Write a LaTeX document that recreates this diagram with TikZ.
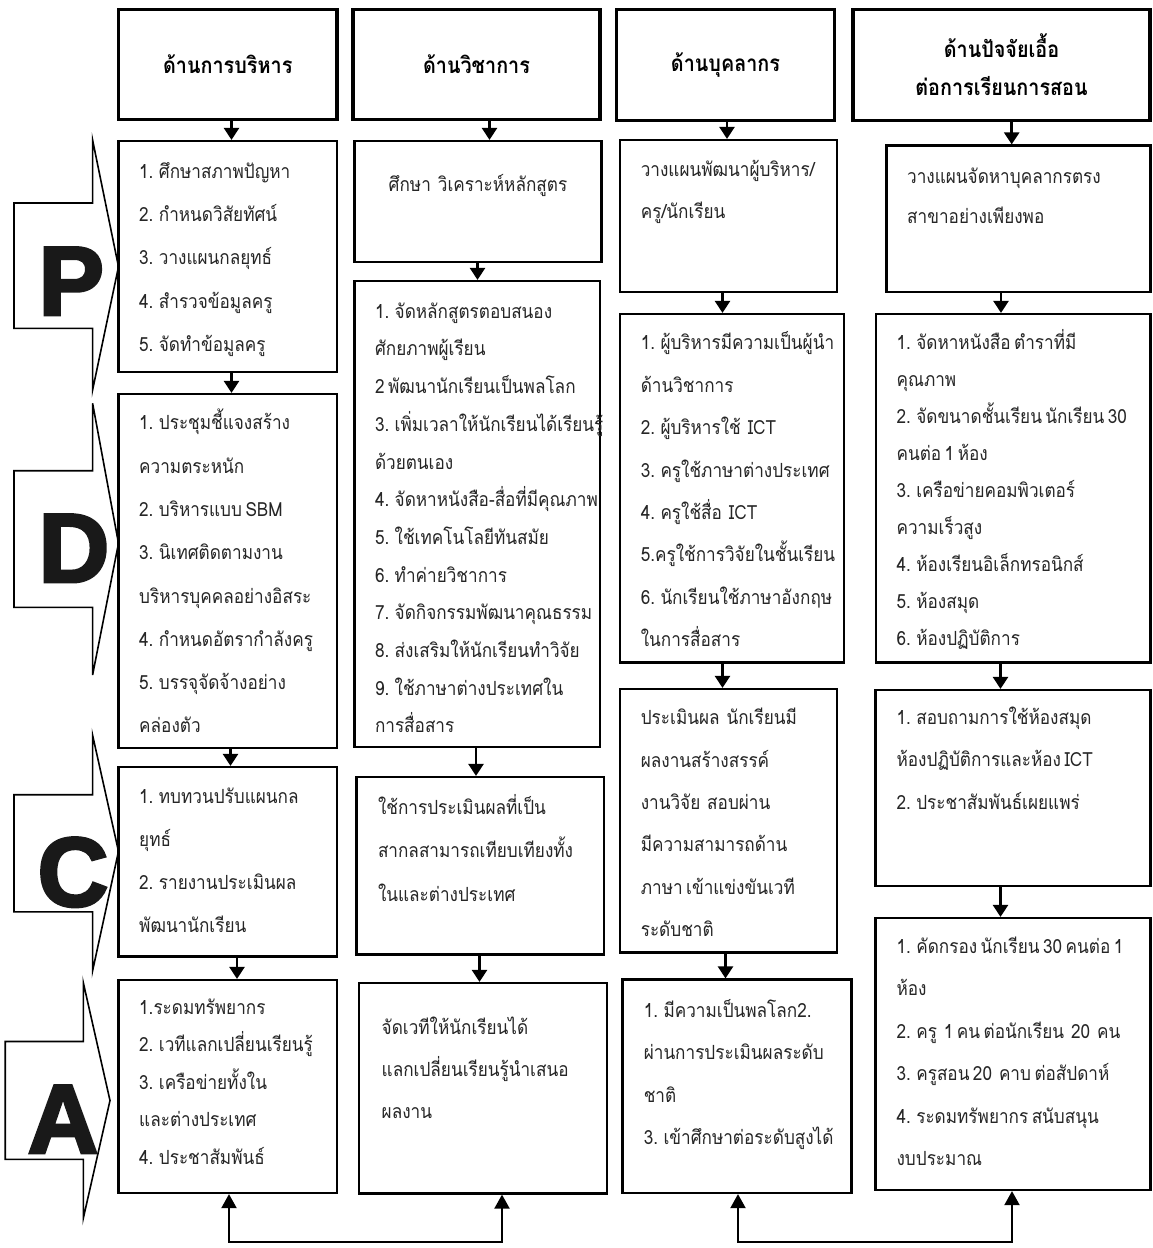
\documentclass[tikz,border=0pt]{standalone}
\usepackage{fontspec}
\usetikzlibrary{arrows.meta}
\newfontfamily\thai[Script=Thai, FakeStretch=0.88, WordSpace=0.6]{Loma}
\newfontfamily\heavy{Liberation Sans}[BoldFeatures={FakeBold=3}]
\newcommand\tl[2]{\vtop{\baselineskip=#1pt\lineskiplimit=-100pt\lineskip=0pt #2}}
\newcommand\li[1]{\hbox{#1}}
\newcommand\mkbox[5]{\node[box, minimum width={#4-#2}, minimum height={#5-#3}] (#1) at ({(#2+#4)/2},{(#3+#5)/2}) {};}
\newcommand\dn[3]{\draw[arr] (#1.south -| #3,0) -- (#2.north -| #3,0);}
\begin{document}
\begin{tikzpicture}[x=1pt,y=-1pt,
  hdr/.style={draw, line width=3.5pt, inner sep=0, align=center, font=\thai\bfseries\fontsize{22.5}{38}\selectfont},
  box/.style={draw, line width=2.2pt, inner sep=0},
  txt/.style={anchor=base west, inner sep=0, font=\thai\fontsize{19.5}{19.5}\selectfont, text=black!85},
  arr/.style={line width=2.5pt, -{Triangle[width=15pt,length=12pt]}},
  link/.style={line width=2pt, {Triangle[width=15pt,length=14pt]}-{Triangle[width=15pt,length=14pt]}},
  pdca/.style={draw, line width=1.6pt, line join=miter, fill=white},
  big/.style={inner sep=0, anchor=base, font=\heavy\bfseries\fontsize{98}{98}\selectfont, text=black!90}
]
\useasboundingbox[fill=white] (0,0) rectangle (1153,1248);

% PDCA block arrows
\draw[pdca] (14,203) -- (92.6,203) -- (92.6,140) -- (118.5,266.7) -- (92.6,390) -- (92.6,328.3) -- (14,328.3) -- cycle;
\draw[pdca] (14,470.7) -- (92.6,470.7) -- (92.6,403.3) -- (118.5,543.3) -- (92.6,675) -- (92.6,607.3) -- (14,607.3) -- cycle;
\draw[pdca] (14,794.7) -- (92.6,794.7) -- (92.6,735.2) -- (118.5,851.3) -- (92.6,970.8) -- (92.6,911.9) -- (14,911.9) -- cycle;
\draw[pdca] (5.2,1041.5) -- (83.3,1041.5) -- (83.3,982.6) -- (110,1100.5) -- (83.3,1218.3) -- (83.3,1159.4) -- (5.2,1159.4) -- cycle;
\node[big] (LP) at (71.3,315) {P};
\node[big] (LD) at (74,582) {D};
\node[big] (LC) at (73,906) {C};
\node[big] (LA) at (63,1153) {A};

% headers
\node[hdr, minimum width=218.5, minimum height=110] (H1) at (227.75,64.5) {ด้านการบริหาร};
\node[hdr, minimum width=247, minimum height=110] (H2) at (476.5,64.5) {ด้านวิชาการ};
\node[hdr, minimum width=218, minimum height=111] (H3) at (725.5,65) {ด้านบุคลากร};
\node[hdr, minimum width=297, minimum height=111] (H4) at (1001.5,65) {ด้านปัจจัยเอื้อ\\ต่อการเรียนการสอน};

% boxes
\mkbox{P1}{118.5}{141}{337}{372}
\mkbox{D1}{118.5}{394}{337}{748}
\mkbox{C1}{118.5}{767}{337}{956.5}
\mkbox{A1}{118.5}{980}{337}{1193}
\mkbox{B1}{354.5}{141}{601.5}{262}
\mkbox{B2}{354.5}{281}{600}{747}
\mkbox{B3}{356.5}{777}{604}{954.5}
\mkbox{B4}{359}{983}{607}{1193.5}
\mkbox{K1}{620}{140}{837}{292}
\mkbox{K2}{620}{314}{844}{662.5}
\mkbox{K3}{620}{689}{837}{952.5}
\mkbox{K4}{622.5}{979.5}{851.5}{1193}
\mkbox{F1}{886.5}{145.5}{1150.5}{292}
\mkbox{F2}{876}{314}{1150.5}{662.5}
\mkbox{F3}{875.5}{690}{1150.5}{886}
\mkbox{F4}{875.5}{918}{1150.5}{1190}

% texts
\node[txt] (tP1) at (139,178.2) {\tl{43.3}{\li{1. ศึกษาสภาพปัญหา}\li{2. กำหนดวิสัยทัศน์}\li{3. วางแผนกลยุทธ์}\li{4. สำรวจข้อมูลครู}\li{5. จัดทำข้อมูลครู}}};
\node[txt] (tD1) at (139,429.8) {\tl{43.3}{\li{1. ประชุมชี้แจงสร้าง}\li{ความตระหนัก}\li{2. บริหารแบบ SBM}\li{3. นิเทศติดตามงาน}\li{บริหารบุคคลอย่างอิสระ}\li{4. กำหนดอัตรากำลังครู}\li{5. บรรจุจัดจ้างอย่าง}\li{คล่องตัว}}};
\node[txt] (tC1) at (139,803.9) {\tl{42.7}{\li{1. ทบทวนปรับแผนกล}\li{ยุทธ์}\li{2. รายงานประเมินผล}\li{พัฒนานักเรียน}}};
\node[txt] (tA1) at (139,1014.5) {\tl{37.4}{\li{1.ระดมทรัพยากร}\li{2. เวทีแลกเปลี่ยนเรียนรู้}\li{3. เครือข่ายทั้งใน}\li{และต่างประเทศ}\li{4. ประชาสัมพันธ์}}};
\node[txt] (tB1) at (388.5,191.5) {\tl{40}{\li{ศึกษา~ วิเคราะห์หลักสูตร}}};
\node[txt] (tB2) at (374.8,318.2) {\tl{37.7}{\li{1. จัดหลักสูตรตอบสนอง}\li{ศักยภาพผู้เรียน}\li{2 พัฒนานักเรียนเป็นพลโลก}\li{3. เพิ่มเวลาให้นักเรียนได้เรียนรู้}\li{ด้วยตนเอง}\li{4. จัดหาหนังสือ-สื่อที่มีคุณภาพ}\li{5. ใช้เทคโนโลยีทันสมัย}\li{6. ทำค่ายวิชาการ}\li{7. จัดกิจกรรมพัฒนาคุณธรรม}\li{8. ส่งเสริมให้นักเรียนทำวิจัย}\li{9. ใช้ภาษาต่างประเทศใน}\li{การสื่อสาร}}};
\node[txt] (tB3) at (377.8,814) {\tl{43.7}{\li{ใช้การประเมินผลที่เป็น}\li{สากลสามารถเทียบเทียงทั้ง}\li{ในและต่างประเทศ}}};
\node[txt] (tB4) at (381.5,1034.5) {\tl{42}{\li{จัดเวทีให้นักเรียนได้}\li{แลกเปลี่ยนเรียนรู้นำเสนอ}\li{ผลงาน}}};
\node[txt] (tK1) at (640.6,176.5) {\tl{41.7}{\li{วางแผนพัฒนาผู้บริหาร/}\li{ครู/นักเรียน}}};
\node[txt] (tK2) at (640.6,349.8) {\tl{42.4}{\li{1. ผู้บริหารมีความเป็นผู้นำ}\li{ด้านวิชาการ}\li{2. ผู้บริหารใช้~ ICT}\li{3. ครูใช้ภาษาต่างประเทศ}\li{4. ครูใช้สื่อ~ ICT}\li{5.ครูใช้การวิจัยในชั้นเรียน}\li{6. นักเรียนใช้ภาษาอังกฤษ}\li{ในการสื่อสาร}}};
\node[txt] (tK3) at (640.6,724.7) {\tl{42.4}{\li{ประเมินผล~ นักเรียนมี}\li{ผลงานสร้างสรรค์}\li{งานวิจัย~ สอบผ่าน}\li{มีความสามารถด้าน}\li{ภาษา เข้าแข่งขันเวที}\li{ระดับชาติ}}};
\node[txt] (tK4) at (643.6,1017.3) {\tl{42.5}{\li{1. มีความเป็นพลโลก2.}\li{ผ่านการประเมินผลระดับ}\li{ชาติ}\li{3. เข้าศึกษาต่อระดับสูงได้}}};
\node[txt] (tF1) at (907,183.2) {\tl{40}{\li{วางแผนจัดหาบุคลากรตรง}\li{สาขาอย่างเพียงพอ}}};
\node[txt] (tF2) at (896.4,349.8) {\tl{36.9}{\li{1. จัดหาหนังสือ ตำราที่มี}\li{คุณภาพ}\li{2. จัดขนาดชั้นเรียน นักเรียน 30}\li{คนต่อ 1 ห้อง}\li{3. เครือข่ายคอมพิวเตอร์}\li{ความเร็วสูง}\li{4. ห้องเรียนอิเล็กทรอนิกส์}\li{5. ห้องสมุด}\li{6. ห้องปฏิบัติการ}}};
\node[txt] (tF3) at (896.4,724.7) {\tl{42.2}{\li{1. สอบถามการใช้ห้องสมุด}\li{ห้องปฏิบัติการและห้อง ICT}\li{2. ประชาสัมพันธ์เผยแพร่}}};
\node[txt] (tF4) at (896.4,953.5) {\tl{42.4}{\li{1. คัดกรอง นักเรียน 30 คนต่อ 1}\li{ห้อง}\li{2. ครู~ 1 คน ต่อนักเรียน~ 20~ คน}\li{3. ครูสอน 20~ คาบ ต่อสัปดาห์}\li{4. ระดมทรัพยากร สนับสนุน}\li{งบประมาณ}}};

% vertical arrows
\dn{H1}{P1}{231.5}
\dn{P1}{D1}{231.5}
\dn{D1}{C1}{230.5}
\dn{C1}{A1}{237}
\dn{H2}{B1}{489.5}
\dn{B1}{B2}{477.5}
\dn{B2}{B3}{476}
\dn{B3}{B4}{479.5}
\dn{H3}{K1}{727}
\dn{K1}{K2}{722.5}
\dn{K2}{K3}{722.5}
\dn{K3}{K4}{725.5}
\dn{H4}{F1}{1011.7}
\dn{F1}{F2}{1001}
\dn{F2}{F3}{1000.5}
\dn{F3}{F4}{1000.5}

% bottom links
\coordinate (L1) at (229,1242);
\coordinate (L2) at (502,1242);
\coordinate (R1) at (738,1242);
\coordinate (R2) at (1012,1242);
\draw[link] (A1.south -| L1) -- (L1) -- (L2) -- (B4.south -| L2);
\draw[link] (K4.south -| R1) -- (R1) -- (R2) -- (F4.south -| R2);
\end{tikzpicture}
\end{document}
